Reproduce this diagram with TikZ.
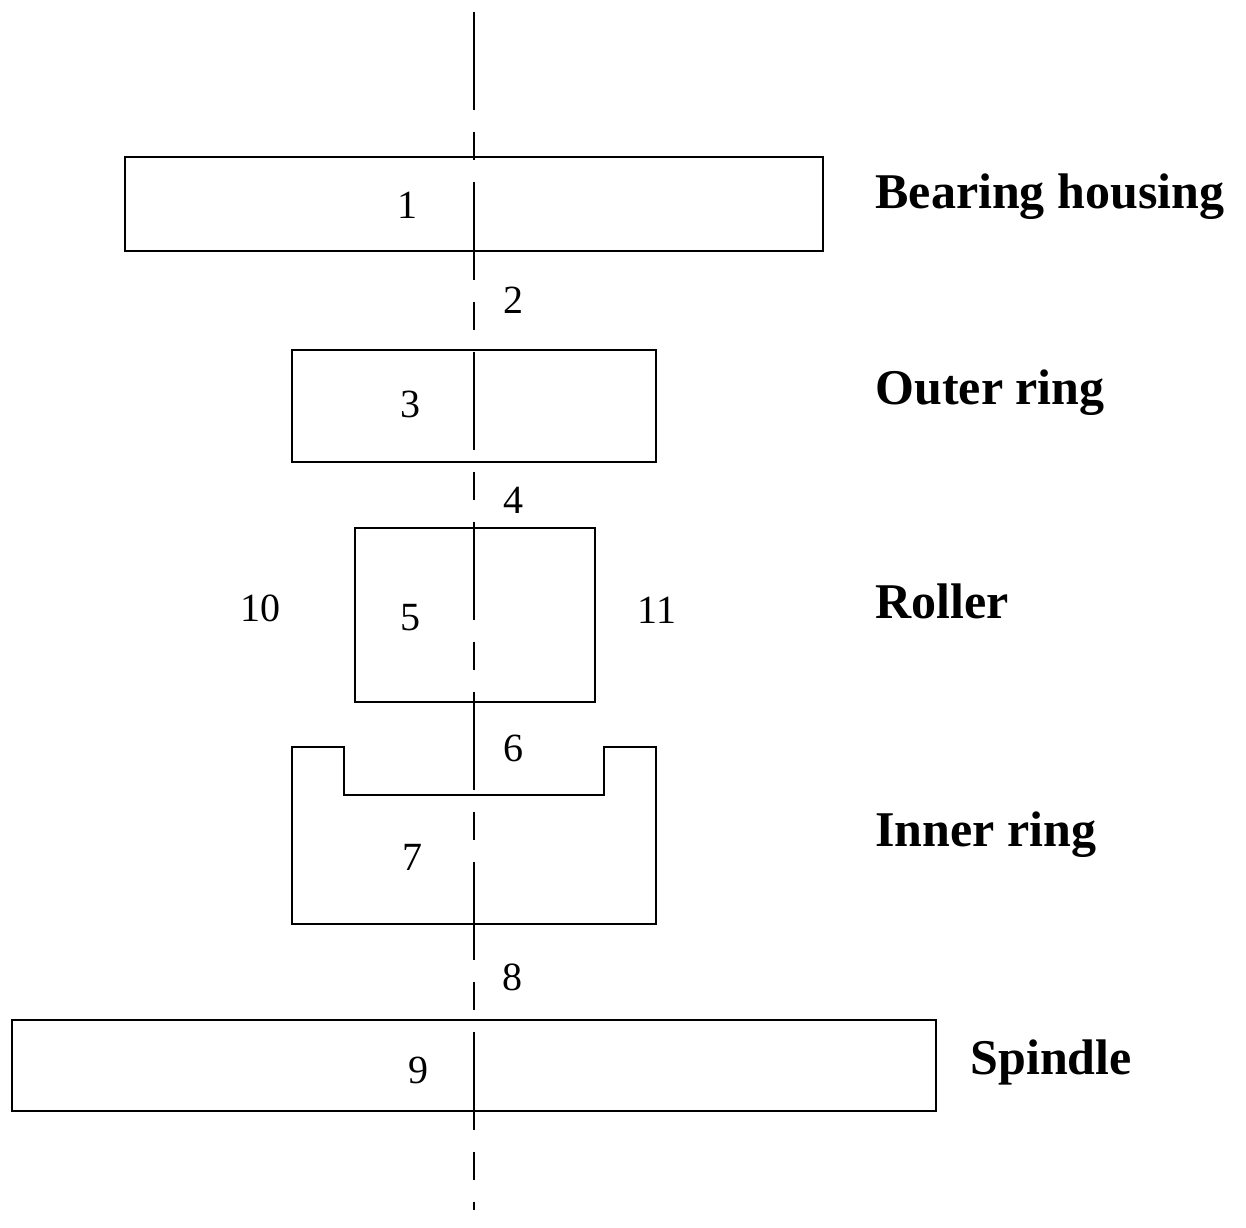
\documentclass[tikz,border=0pt]{standalone}
\usepackage{fontspec}
\setmainfont{Liberation Serif}
\begin{document}
\begin{tikzpicture}[x=1pt,y=-1pt,
  part/.style={line width=2pt},
  num/.style={font=\fontsize{40}{44}\selectfont},
  lab/.style={font=\fontsize{50}{55}\selectfont\bfseries, anchor=west}]
\useasboundingbox (0,0) rectangle (1246,1227);
\draw[line width=2pt, dash pattern=on 98pt off 22pt on 28pt off 22pt] (474,12) -- (474,1210);
\draw[part] (125,157) rectangle (823,251);
\draw[part] (292,350) rectangle (656,462);
\draw[part] (355,528) rectangle (595,702);
\draw[part] (292,747) -- (344,747) -- (344,795) -- (604,795) -- (604,747) -- (656,747) -- (656,924) -- (292,924) -- cycle;
\draw[part] (12,1020) rectangle (936,1111);
\node[num] (n1) at (407,205) {1};
\node[num] (n2) at (513,300) {2};
\node[num] (n3) at (410,404) {3};
\node[num] (n4) at (513,500) {4};
\node[num] (n5) at (410,618) {5};
\node[num] (n10) at (260,608) {10};
\node[num] (n11) at (657,610) {11};
\node[num] (n6) at (513,748) {6};
\node[num] (n7) at (412,857) {7};
\node[num] (n8) at (512,977) {8};
\node[num] (n9) at (418,1070) {9};
\node[lab] (l1) at (872,197) {Bearing housing};
\node[lab] (l2) at (872,393) {Outer ring};
\node[lab] (l3) at (872,601) {Roller};
\node[lab] (l4) at (872,835) {Inner ring};
\node[lab] (l5) at (967,1062) {Spindle};
\end{tikzpicture}
\end{document}
